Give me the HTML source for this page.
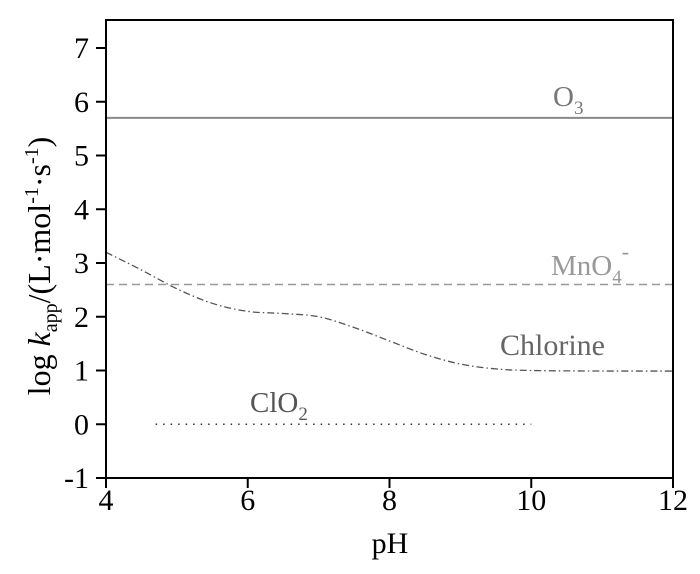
<!DOCTYPE html>
<html><head><meta charset="utf-8"><style>
body{margin:0;background:#fff;}
svg text{font-family:"Liberation Serif",serif;}
</style></head><body>
<svg width="700" height="569" viewBox="0 0 700 569" xmlns="http://www.w3.org/2000/svg">
<g id="marks"></g>
<g id="axes"></g>
</svg>
<script>
const xTicks=[4,6,8,10,12];
const yTicks=[-1,0,1,2,3,4,5,6,7];
const o3Value=5.7;
const mno4Value=2.6;
const clo2Value=0;
const clo2Range=[4.7,10];
const chlorinePH=[4,4.5,5,5.5,6,6.5,7,7.5,8,8.5,9,9.5,10,11,12];
const chlorineLogK=[3.2,2.87,2.52,2.25,2.1,2.06,2.0,1.8,1.55,1.3,1.12,1.03,1.0,0.99,0.99];

const L=106,R=673,T=20,B=478;
const X=v=>L+(v-4)*(R-L)/8;
const Y=v=>478-(v+1)*(478-48)/8;
const NS="http://www.w3.org/2000/svg";
const marks=document.getElementById('marks'),axes=document.getElementById('axes');
function mk(tag,attrs,parent,txt){const e=document.createElementNS(NS,tag);for(const k in attrs)e.setAttribute(k,attrs[k]);if(txt!==undefined)e.textContent=txt;parent.appendChild(e);return e;}

let e;
e=mk('line',{x1:X(4),x2:X(12),y1:Y(o3Value),y2:Y(o3Value),stroke:'#888','stroke-width':2},marks);


e=mk('line',{x1:X(4),x2:X(12),y1:Y(mno4Value),y2:Y(mno4Value),stroke:'#999','stroke-width':1.5,'stroke-dasharray':'8,5'},marks);


e=mk('line',{x1:X(clo2Range[0]),x2:X(clo2Range[1]),y1:Y(clo2Value),y2:Y(clo2Value),stroke:'#333','stroke-width':1.5,'stroke-dasharray':'1.5,6'},marks);


let d='';
const pts=chlorinePH.map((p,i)=>[X(p),Y(chlorineLogK[i])]);
d='M'+pts[0][0]+','+pts[0][1];
for(let i=0;i<pts.length-1;i++){const p0=pts[i-1]||pts[i],p1=pts[i],p2=pts[i+1],p3=pts[i+2]||p2;
d+=` C${p1[0]+(p2[0]-p0[0])/6},${p1[1]+(p2[1]-p0[1])/6} ${p2[0]-(p3[0]-p1[0])/6},${p2[1]-(p3[1]-p1[1])/6} ${p2[0]},${p2[1]}`;}
e=mk('path',{d:d,fill:'none',stroke:'#555','stroke-width':1.3,'stroke-dasharray':'7,3,1.5,3'},marks);



e=mk('text',{x:553,y:106,'font-size':29,fill:'#777'},marks);e.innerHTML='O<tspan font-size="19" dy="8">3</tspan>';


e=mk('text',{x:551,y:275,'font-size':29,fill:'#999'},marks);e.innerHTML='MnO<tspan font-size="19" dy="8">4</tspan><tspan font-size="22" dy="-24">-</tspan>';


e=mk('text',{x:500,y:355,'font-size':30,fill:'#666'},marks,'Chlorine');


e=mk('text',{x:250,y:412,'font-size':29,fill:'#555'},marks);e.innerHTML='ClO<tspan font-size="19" dy="8">2</tspan>';



e=mk('rect',{x:L,y:T,width:R-L,height:B-T,fill:'none',stroke:'#000','stroke-width':2},axes);


xTicks.forEach(v=>{
 e=mk('line',{x1:X(v),x2:X(v),y1:B,y2:B+10,stroke:'#000','stroke-width':2},axes);
 
 
 e=mk('text',{x:X(v),y:510,'font-size':30,'text-anchor':'middle'},axes,String(v));
 
 
});
yTicks.forEach(v=>{
 e=mk('line',{x1:L-10,x2:L,y1:Y(v),y2:Y(v),stroke:'#000','stroke-width':2},axes);
 
 
 e=mk('text',{x:89,y:Y(v)+10,'font-size':30,'text-anchor':'end'},axes,String(v));
 
 
});
e=mk('text',{x:390,y:553,'font-size':30,'text-anchor':'middle'},axes,'pH');


e=mk('text',{transform:'translate(50,266) rotate(-90)','font-size':32,'text-anchor':'middle'},axes);
e.innerHTML='log <tspan font-style="italic">k</tspan><tspan font-size="20" dy="7">app</tspan><tspan dy="-7">/(L·mol</tspan><tspan font-size="20" dy="-12">-1</tspan><tspan dy="12">·s</tspan><tspan font-size="20" dy="-12">-1</tspan><tspan dy="12">)</tspan>';


</script>
</body></html>
